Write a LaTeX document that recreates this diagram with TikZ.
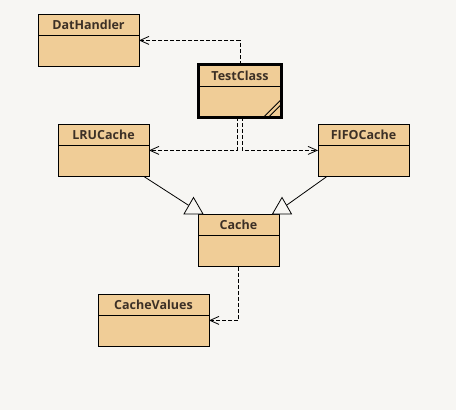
\documentclass[tikz,border=0pt]{standalone}
\usepackage{fontspec}
\setmainfont{Open Sans}
\usetikzlibrary{shapes.multipart, shapes.geometric, arrows.meta}
\definecolor{bgcol}{RGB}{247,246,243}
\definecolor{classfill}{RGB}{240,205,151}
\definecolor{txtcol}{RGB}{60,48,38}
\tikzset{
  umlclass/.style={rectangle split, rectangle split parts=2, draw, fill=classfill, line width=0.9pt,
    inner xsep=0pt, inner ysep=0pt, outer sep=0pt, anchor=north west, text=txtcol,
    font=\fontsize{12.5}{14}\selectfont\bfseries},
  dep/.style={line width=0.8pt, dash pattern=on 4pt off 2pt, -{Straight Barb[length=9pt,width=8pt]}},
  gen/.style={line width=0.8pt},
  gentri/.style={regular polygon, regular polygon sides=3, draw, fill=bgcol, minimum size=22pt,
    inner sep=0pt, line width=0.8pt}
}
\newcommand{\cls}[1]{\rule[-5.5pt]{0pt}{21pt}#1\nodepart{two}\rule{0pt}{30pt}}

\begin{document}
\begin{tikzpicture}[x=1pt, y=-1pt]
  % background
  \fill[bgcol] (0,0) rectangle (456,410);
  \useasboundingbox (0,0) rectangle (456,410);

  % classes
  \node[umlclass, minimum width=101pt] (dat) at (38,14) {\cls{DatHandler}};
  \node[umlclass, minimum width=83pt] (test) at (198.5,64.5) {\cls{TestClass}};
  \node[umlclass, minimum width=91pt] (lru) at (58,124) {\cls{LRUCache}};
  \node[umlclass, minimum width=91pt] (fifo) at (318,124) {\cls{FIFOCache}};
  \node[umlclass, minimum width=81pt] (cache) at (198,214) {\cls{Cache}};
  \node[umlclass, minimum width=111pt] (vals) at (98,294) {\cls{CacheValues}};

  % generalization triangles
  \node[gentri] (lrutri) at (193.5,208.5) {};
  \node[gentri] (fifotri) at (282,208.5) {};

  % dependencies
  \draw[dep] (test.north) |- (dat);
  \draw[dep] ([xshift=-3pt]test.south) |- (lru);
  \draw[dep] ([xshift=2pt]test.south) |- (fifo);
  \draw[dep] (cache.south) |- (vals);

  % generalizations
  \draw[gen] (lru) -- (lrutri);
  \draw[gen] (fifo) -- (fifotri);

  % active class border
  \draw[line width=3pt] (test.north west) rectangle (test.south east);
  \draw[line width=0.8pt] ([xshift=-18pt]test.south east) -- ([yshift=18pt]test.south east);
  \draw[line width=0.8pt] ([xshift=-13pt]test.south east) -- ([yshift=13pt]test.south east);
\end{tikzpicture}
\end{document}
